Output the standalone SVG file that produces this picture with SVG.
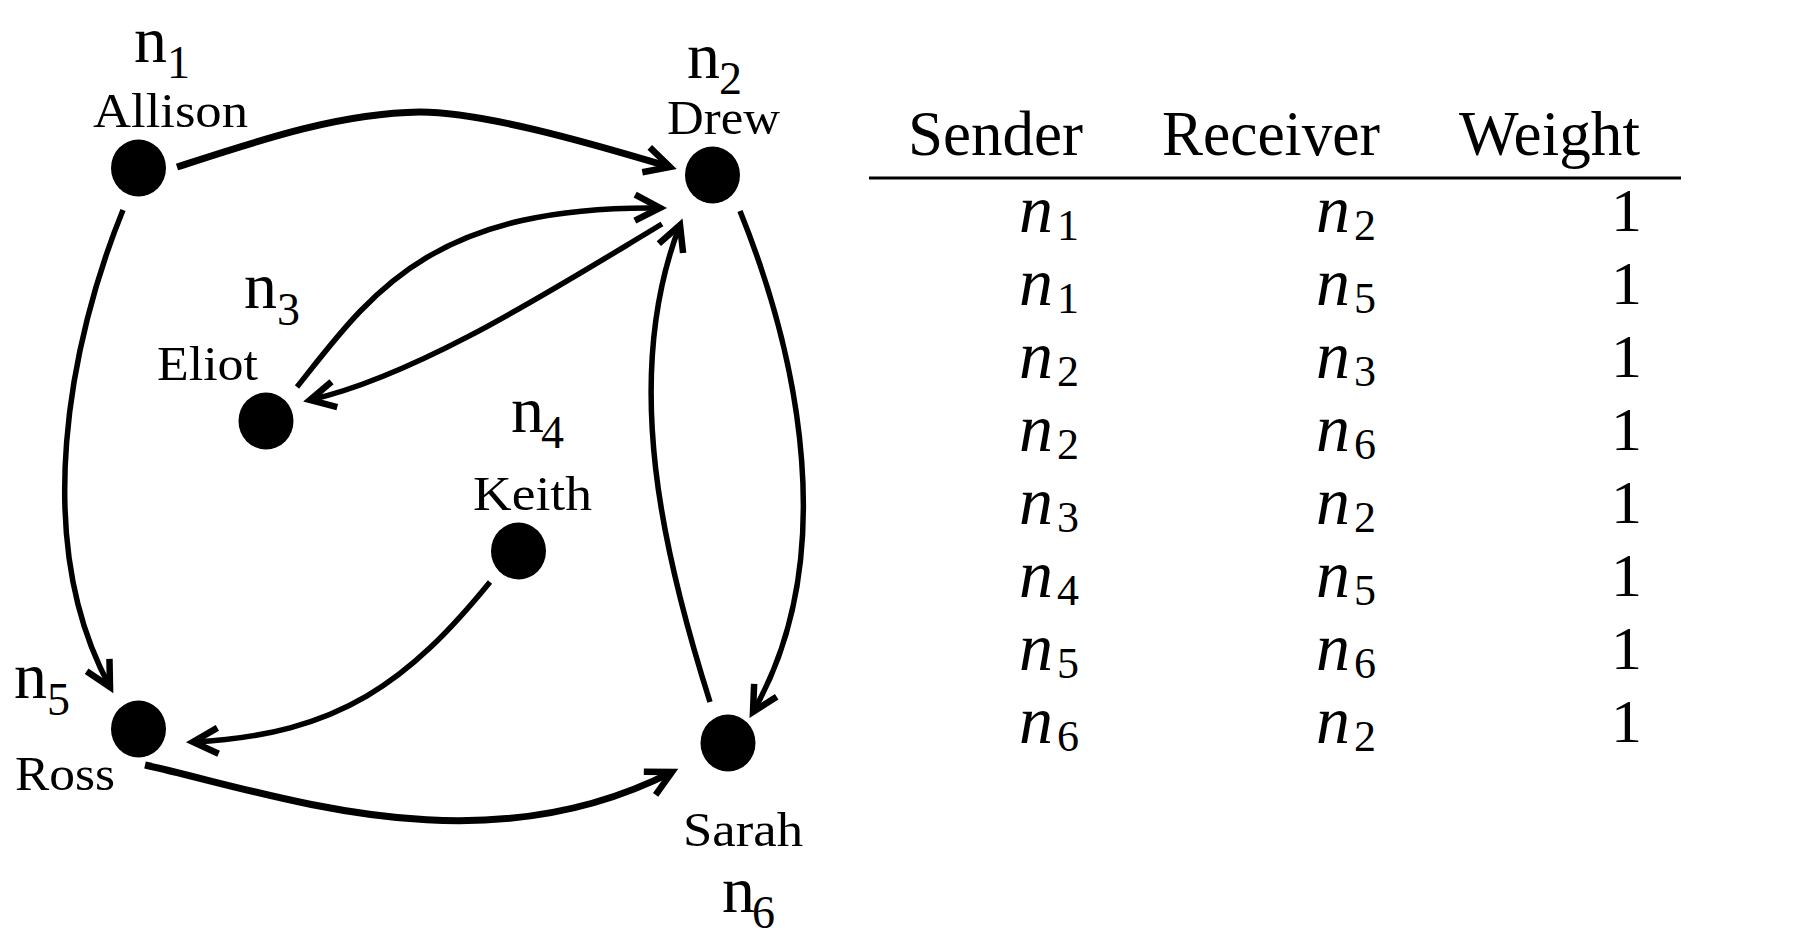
<svg xmlns="http://www.w3.org/2000/svg" width="1820" height="952" viewBox="0 0 1820 952">
<style>
.name{font-family:"Liberation Serif","Times New Roman",serif;font-size:48px;fill:#000}
.nl{font-family:"Liberation Serif","Times New Roman",serif;font-size:66px;fill:#000}
.ns{font-size:46px}
.hd{font-family:"Liberation Serif","Times New Roman",serif;font-size:64px;fill:#000}
.mi{font-family:"Liberation Serif","Times New Roman",serif;font-size:68px;font-style:italic;fill:#000}
.ms{font-size:44px;font-style:normal}
.w{font-family:"Liberation Serif","Times New Roman",serif;font-size:62px;fill:#000;text-anchor:end}
.dot{fill:#000}
.e{fill:none;stroke:#000;stroke-width:5.5;marker-end:url(#arr)}
.thick{stroke-width:7}
</style>
<defs>
<marker id="arr" markerUnits="userSpaceOnUse" orient="auto" overflow="visible" refX="0" refY="0" markerWidth="1" markerHeight="1">
<path d="M-25,-13 L0,0 L-25,13" fill="none" stroke="#000" stroke-width="6.5" stroke-linejoin="miter"/>
</marker>
</defs>
<rect width="1820" height="952" fill="#fff"/>
<g id="connectors">
<path class="e thick" d="M177,167 C260,140 340,113 420,112 C480,112 580,140 670,167"/>
<path class="e" d="M123,210 C70,340 30,540 110,687"/>
<path class="e" d="M662,224 C560,285 420,375 310,400"/>
<path class="e" d="M297,387 C370,295 430,205 660,208"/>
<path class="e" d="M740,211 C800,360 840,560 753,712"/>
<path class="e" d="M710,702 C665,560 620,380 680,225"/>
<path class="e" d="M490,582 C410,680 340,735 193,742"/>
<path class="e thick" d="M145,765 C280,795 480,870 672,772"/>
</g>
<g id="n1">
<ellipse class="dot" cx="138.5" cy="168" rx="27.5" ry="28.5"/>
<text class="nl" x="134" y="62">n<tspan class="ns" x="167" y="78">1</tspan></text>
<text class="name" x="93" y="127" textLength="155" lengthAdjust="spacingAndGlyphs">Allison</text>
</g>
<g id="n2">
<ellipse class="dot" cx="712.5" cy="175" rx="27.5" ry="28.5"/>
<text class="nl" x="687" y="78">n<tspan class="ns" x="719" y="94">2</tspan></text>
<text class="name" x="667" y="134" textLength="113" lengthAdjust="spacingAndGlyphs">Drew</text>
</g>
<g id="n3">
<ellipse class="dot" cx="266" cy="421" rx="27.5" ry="28.5"/>
<text class="nl" x="244" y="308">n<tspan class="ns" x="277" y="325">3</tspan></text>
<text class="name" x="157" y="380" textLength="101" lengthAdjust="spacingAndGlyphs">Eliot</text>
</g>
<g id="n4">
<ellipse class="dot" cx="518.5" cy="551" rx="27.5" ry="28.5"/>
<text class="nl" x="511" y="432">n<tspan class="ns" x="541" y="448">4</tspan></text>
<text class="name" x="473" y="510" textLength="119" lengthAdjust="spacingAndGlyphs">Keith</text>
</g>
<g id="n5">
<ellipse class="dot" cx="138.5" cy="729" rx="27.5" ry="28.5"/>
<text class="nl" x="14" y="698">n<tspan class="ns" x="47" y="715">5</tspan></text>
<text class="name" x="15" y="790" textLength="100" lengthAdjust="spacingAndGlyphs">Ross</text>
</g>
<g id="n6">
<ellipse class="dot" cx="728" cy="743" rx="27.5" ry="28.5"/>
<text class="nl" x="722" y="912">n<tspan class="ns" x="752" y="928">6</tspan></text>
<text class="name" x="683" y="846" textLength="120" lengthAdjust="spacingAndGlyphs">Sarah</text>
</g>
<g id="table">
<text class="hd" x="908" y="155" textLength="175" lengthAdjust="spacingAndGlyphs">Sender</text>
<text class="hd" x="1162" y="155" textLength="218" lengthAdjust="spacingAndGlyphs">Receiver</text>
<text class="hd" x="1459" y="155" textLength="181" lengthAdjust="spacingAndGlyphs">Weight</text>
<line x1="869" y1="178" x2="1681" y2="178" stroke="#000" stroke-width="3"/>
<text class="mi" x="1019" y="232">n<tspan class="ms" x="1057" y="240">1</tspan></text>
<text class="mi" x="1316" y="232">n<tspan class="ms" x="1354" y="240">2</tspan></text>
<text class="w" x="1642" y="231">1</text>
<text class="mi" x="1019" y="305">n<tspan class="ms" x="1057" y="313">1</tspan></text>
<text class="mi" x="1316" y="305">n<tspan class="ms" x="1354" y="313">5</tspan></text>
<text class="w" x="1642" y="304">1</text>
<text class="mi" x="1019" y="378">n<tspan class="ms" x="1057" y="386">2</tspan></text>
<text class="mi" x="1316" y="378">n<tspan class="ms" x="1354" y="386">3</tspan></text>
<text class="w" x="1642" y="377">1</text>
<text class="mi" x="1019" y="451">n<tspan class="ms" x="1057" y="459">2</tspan></text>
<text class="mi" x="1316" y="451">n<tspan class="ms" x="1354" y="459">6</tspan></text>
<text class="w" x="1642" y="450">1</text>
<text class="mi" x="1019" y="524">n<tspan class="ms" x="1057" y="532">3</tspan></text>
<text class="mi" x="1316" y="524">n<tspan class="ms" x="1354" y="532">2</tspan></text>
<text class="w" x="1642" y="523">1</text>
<text class="mi" x="1019" y="597">n<tspan class="ms" x="1057" y="605">4</tspan></text>
<text class="mi" x="1316" y="597">n<tspan class="ms" x="1354" y="605">5</tspan></text>
<text class="w" x="1642" y="596">1</text>
<text class="mi" x="1019" y="670">n<tspan class="ms" x="1057" y="678">5</tspan></text>
<text class="mi" x="1316" y="670">n<tspan class="ms" x="1354" y="678">6</tspan></text>
<text class="w" x="1642" y="669">1</text>
<text class="mi" x="1019" y="743">n<tspan class="ms" x="1057" y="751">6</tspan></text>
<text class="mi" x="1316" y="743">n<tspan class="ms" x="1354" y="751">2</tspan></text>
<text class="w" x="1642" y="742">1</text>
</g>
</svg>
